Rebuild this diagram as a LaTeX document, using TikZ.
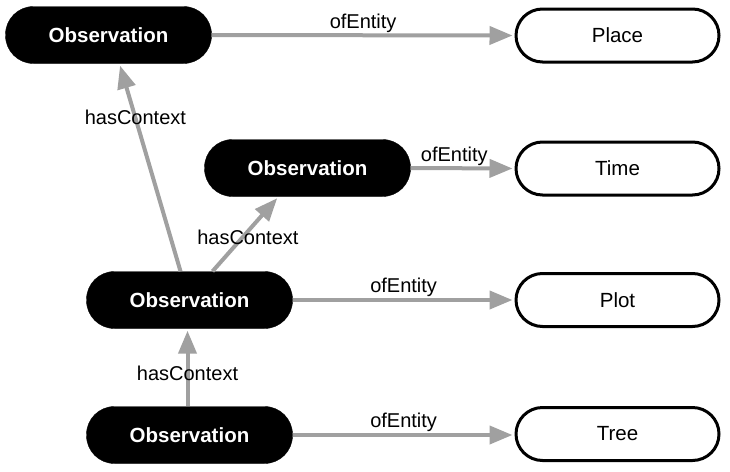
\documentclass[tikz,border=0pt]{standalone}
\usepackage{fontspec}
\setmainfont{Liberation Sans}
\usetikzlibrary{arrows.meta}
\definecolor{edgegray}{RGB}{160,160,160}
\tikzset{
  obsnode/.style={rectangle, rounded corners=28pt, fill=black, draw=black,
    minimum width=206pt, minimum height=57pt, text=white,
    font=\fontsize{20.5}{24}\selectfont\bfseries, inner sep=0pt},
  entnode/.style={rectangle, rounded corners=26.5pt, fill=white, draw=black, line width=3pt,
    minimum width=203pt, minimum height=53pt, text=black,
    font=\fontsize{20.5}{24}\selectfont, inner sep=0pt},
  rel/.style={draw=edgegray, line width=4pt,
    -{Triangle[length=23pt,width=18pt]}, shorten >=2pt},
  lbl/.style={font=\fontsize{20}{24}\selectfont, text=black, inner sep=1pt}
}
\begin{document}
\begin{tikzpicture}[x=1pt,y=-1pt]
\useasboundingbox (0,0) rectangle (730,471);
\node[obsnode] (o1) at (108.5,35) {Observation};
\node[obsnode] (o2) at (307.5,168) {Observation};
\node[obsnode] (o3) at (189.5,300) {Observation};
\node[obsnode] (o4) at (189.5,435) {Observation};
\node[entnode] (place) at (617.5,35.5) {Place};
\node[entnode] (time) at (617.5,168.5) {Time};
\node[entnode] (plot) at (617.5,300) {Plot};
\node[entnode] (tree) at (617.5,434) {Tree};

\draw[rel] (o1.east) -- node[lbl, above] {ofEntity} (place.west);
\draw[rel] (o2.east) -- node[lbl, above, pos=0.42] {ofEntity} (time.west);
\draw[rel] (o3.east) -- node[lbl, above] {ofEntity} (plot.west);
\draw[rel] (o4.east) -- node[lbl, above] {ofEntity} ([yshift=-1pt]tree.west);

\draw[rel] ([xshift=-9pt]o3.north) -- node[lbl, pos=0.74] {hasContext} ([xshift=11pt]o1.south);
\draw[rel] ([xshift=23pt]o3.north) -- node[lbl, pos=0.46, xshift=5pt] {hasContext} ([xshift=-29pt]o2.south);
\draw[rel] ([xshift=-2pt]o4.north) -- node[lbl, pos=0.42] {hasContext} ([xshift=-2pt]o3.south);
\end{tikzpicture}
\end{document}
